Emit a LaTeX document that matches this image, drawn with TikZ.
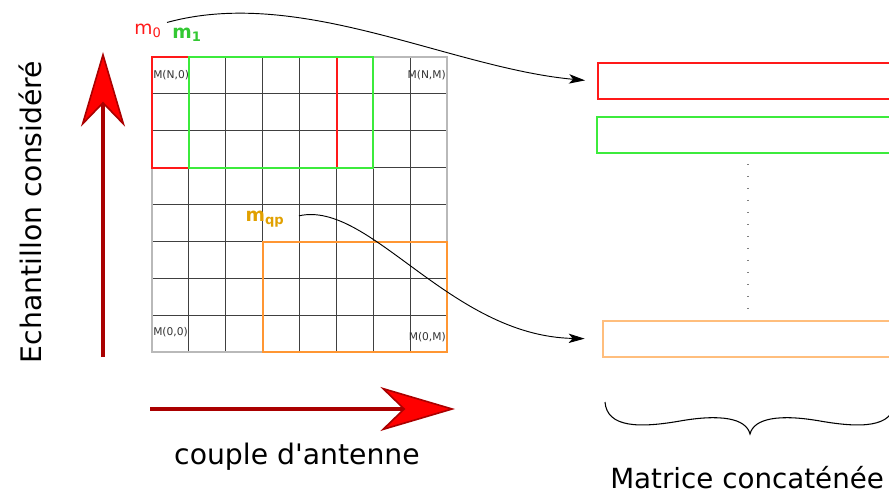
\documentclass[tikz,border=0pt]{standalone}
\usepackage{fontspec}
\setmainfont{DejaVu Sans}[Ligatures=TeXOff]
\usepackage{xcolor}
\usepackage{tikz}
\usetikzlibrary{positioning,arrows.meta}

\definecolor{winred}{RGB}{255,25,25}
\definecolor{wingreen}{RGB}{60,235,60}
\definecolor{winorange}{RGB}{255,150,50}
\definecolor{rowpeach}{RGB}{255,190,125}
\definecolor{axisred}{RGB}{170,0,0}
\definecolor{qpgold}{RGB}{225,160,0}

\begin{document}
\begin{tikzpicture}[x=0.75pt,y=-0.75pt,
  every node/.style={inner sep=0pt},
  cell/.style={draw=black!75,line width=0.6pt},
  corner/.style={font=\fontsize{8}{9}\selectfont,text=black!80},
  win/.style={line width=1.5pt},
  big/.style={font=\fontsize{21.2}{24}\selectfont},
  rowbox/.style={line width=1.5pt,minimum width=240pt,minimum height=27pt,anchor=west},
  link/.style={-{Stealth[length=12pt,width=7pt,inset=3pt]},line width=0.7pt},
  bigarrow/.style={line width=3.5pt,draw=axisred,
    -{Stealth[length=56pt,width=33pt,inset=17pt,line width=1.2pt,fill=red]}}]
\useasboundingbox (0,0) rectangle (889,495);

% the sample grid
\foreach \i in {0,...,8} {
  \draw[cell] (152+36.875*\i,57) -- ++(0,295);
  \draw[cell] (152,57+36.875*\i) -- ++(295,0);
}
\draw[gray!55,line width=0.8pt] (152,57) rectangle (447,352);
\node[corner,anchor=west] (mn0) at (153,75) {M(N,0)};
\node[corner,anchor=east] (mnm) at (446,75) {M(N,M)};
\node[corner,anchor=west] (m00) at (153,332) {M(0,0)};
\node[corner,anchor=east] (m0m) at (446,337) {M(0,M)};

% sliding windows
\draw[win,draw=winred] (152,57) rectangle (337,168);
\draw[win,draw=wingreen] (189,57) rectangle (373,168);
\draw[win,draw=winorange] (263,242) rectangle (447,352);
\node[text=winred,font=\fontsize{14}{15}\selectfont] (mzero) at (148,31) {m\textsubscript{0}};
\node[text=wingreen!85!black,font=\bfseries\fontsize{14}{15}\selectfont] (mone) at (187,35) {m\textsubscript{1}};
\node[text=qpgold,font=\bfseries\fontsize{14}{15}\selectfont] (mqp) at (265,219) {m\textsubscript{qp}};

% concatenated rows
\node[rowbox,draw=winred] (rowr) at (597,81.5) {};
\node[rowbox,draw=wingreen] (rowg) at (596,135) {};
\node[rowbox,draw=rowpeach] (rowo) at (602,339) {};
\draw[gray,line width=1pt,dash pattern=on 0.75pt off 8.25pt] (748,164) -- (748,312);

\draw[link,shorten <=4pt,shorten >=9pt] (mzero.north east) .. controls (300,-14) and (450,68) .. (rowr.west);
\draw[link,shorten <=11pt,shorten >=13pt] (mqp.east) .. controls (370,200) and (450,336) .. (rowo.west);

% brace
\draw[line width=0.8pt] (605,402) .. controls (607,428) and (640,428) .. (680,421)
  .. controls (720,414) and (746,418) .. (750,434)
  .. controls (754,418) and (780,414) .. (820,421)
  .. controls (860,428) and (893,428) .. (895,402);

% axes
\draw[bigarrow] (103,357) -- (103,52);
\draw[bigarrow] (150,409) -- (455,409);
\node[big] (xlbl) at (297,457) {couple d'antenne};
\node[big,rotate=90] (ylbl) at (30,212) {Echantillon considéré};
\node[big,anchor=west,font=\fontsize{20.8}{24}\selectfont] (mlbl) at (610,478) {Matrice concaténée};
\end{tikzpicture}
\end{document}
